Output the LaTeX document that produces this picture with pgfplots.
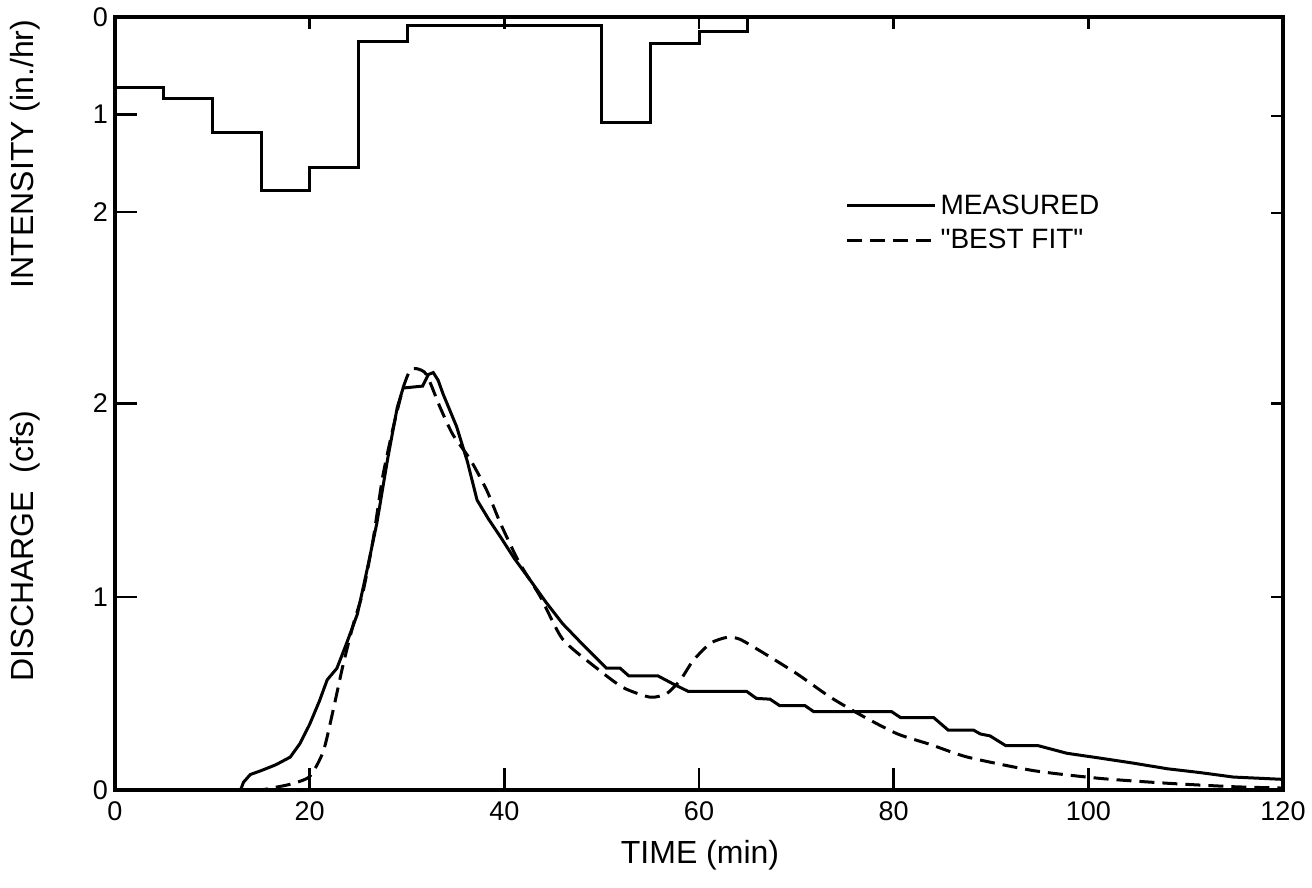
\documentclass[border=0pt]{standalone}
\usepackage{fontspec}
\setmainfont{Liberation Sans}
\usepackage{pgfplots}
\pgfplotsset{compat=1.18}

\pgfplotsset{
  base/.style={
    scale only axis, width=584pt, height=386.5pt,
    xmin=0, xmax=120,
    tick align=inside,
    tick style={line width=1.2pt, black},
    ticklabel style={font=\fontsize{13.5}{16}\selectfont},
    /pgf/number format/assume math mode=true,
  }
}

\begin{document}
\begin{tikzpicture}
% ---------- discharge axis ----------
\begin{axis}[base,
  ymin=0, ymax=4,
  axis line style={line width=2.2pt},
  xtick={0,20,40,60,80,100,120},
  xtick pos=left,
  xticklabel style={yshift=-2.5pt},
  ytick={0,1,2},
  ytick pos=left,
  major tick length=11pt,
  legend style={draw=none, fill=none, at={(rel axis cs:0.62,0.781)}, anchor=north west,
    font=\fontsize{14}{16}\selectfont, row sep=2pt},
  legend cell align=left,
  legend image code/.code={\draw[#1] (0pt,0pt) -- (35pt,0pt); \path (0pt,0pt) -- (44pt,0pt);},
]
\addplot[line width=1.5pt, black] coordinates {
(0,0) (12.9,0) (13.2,0.04) (13.9,0.08) (15,0.1) (16.5,0.13) (18,0.17) (19,0.24)
(20,0.34) (21,0.46) (21.8,0.57) (22.8,0.63) (23.8,0.76) (24.9,0.91) (25.9,1.14)
(26.9,1.38) (28,1.71) (29,1.98) (29.6,2.08) (31.6,2.09) (32.2,2.15) (32.7,2.16)
(33.2,2.12) (33.7,2.05) (35.1,1.88) (36.2,1.70) (37.2,1.50) (38.4,1.40) (39.6,1.31)
(41,1.20) (42.6,1.09) (44.3,0.97) (46,0.86) (48.3,0.74) (50.5,0.63) (51.9,0.63)
(52.8,0.59) (55.8,0.59) (57.3,0.55) (58.9,0.51) (64.9,0.51) (65.9,0.474) (67.3,0.47)
(68.3,0.436) (70.9,0.436) (71.8,0.405) (79.8,0.405) (80.7,0.375) (84.1,0.375)
(85.6,0.31) (88.2,0.31) (88.9,0.29) (89.9,0.28) (91.5,0.23) (94.8,0.23) (97.8,0.19)
(101.2,0.165) (104.5,0.14) (108.1,0.11) (111.5,0.09) (114.9,0.067) (120,0.055)
};
\addlegendentry{MEASURED}
\addplot[line width=1.5pt, black, dash pattern=on 7.5pt off 4pt, smooth, tension=0.4] coordinates {
(0,0) (14,0) (16,0.01) (18,0.03) (20,0.07) (21.4,0.2) (22.4,0.41) (23.4,0.64)
(24.5,0.86) (25.5,1.03) (26.5,1.29) (27.5,1.62) (28.6,1.88) (29.6,2.08) (30.3,2.17)
(31,2.18) (32,2.15) (33.4,1.98) (34.7,1.84) (36.5,1.71) (38.2,1.55) (39.6,1.38)
(41.5,1.18) (43.7,1.0) (46,0.78) (49.5,0.63) (52.2,0.53) (55,0.48) (56.7,0.5)
(58.1,0.57) (59.4,0.67) (61.2,0.76) (62.9,0.79) (64.2,0.78) (66.6,0.71) (70.1,0.60)
(73.5,0.48) (76.9,0.38) (80.4,0.29) (83.8,0.235) (87.6,0.17) (94.4,0.10)
(101.2,0.06) (108.1,0.035) (114.9,0.017) (120,0.01)
};
\addlegendentry{\textquotedbl BEST FIT\textquotedbl}
\end{axis}

% ---------- intensity axis ----------
\begin{axis}[base,
  ymin=0, ymax=7.93, y dir=reverse,
  axis line style={draw=none},
  xtick=\empty,
  ytick={0,1,2},
  ytick pos=left,
  major tick length=11pt,
]
\addplot[const plot, line width=1.5pt, black] coordinates {
(0,0.72) (5,0.84) (10,1.18) (15,1.78) (20,1.54) (25,0.25) (30,0.09)
(50,1.08) (55,0.27) (60,0.15) (65,0)
};
\end{axis}

% ---------- short ticks on top and right ----------
\begin{axis}[base,
  ymin=0, ymax=4,
  axis line style={draw=none},
  xtick={20,40,60,80,100}, xticklabels={},
  xtick pos=right,
  ytick={1,2,2.987,3.488}, yticklabels={},
  ytick pos=right,
  major tick length=6pt,
]
\end{axis}

\node[rotate=90, font=\fontsize{16}{18}\selectfont] at (-45pt,318pt) {INTENSITY (in./hr)};
\node[rotate=90, font=\fontsize{16}{18}\selectfont] at (-45pt,122pt) {DISCHARGE\ \ (cfs)};
\node[font=\fontsize{16}{18}\selectfont] at (292.5pt,-32.5pt) {TIME (min)};

\pgfresetboundingbox
\path (-57.5pt,-49pt) rectangle (598.5pt,395pt);
\end{tikzpicture}
\end{document}
